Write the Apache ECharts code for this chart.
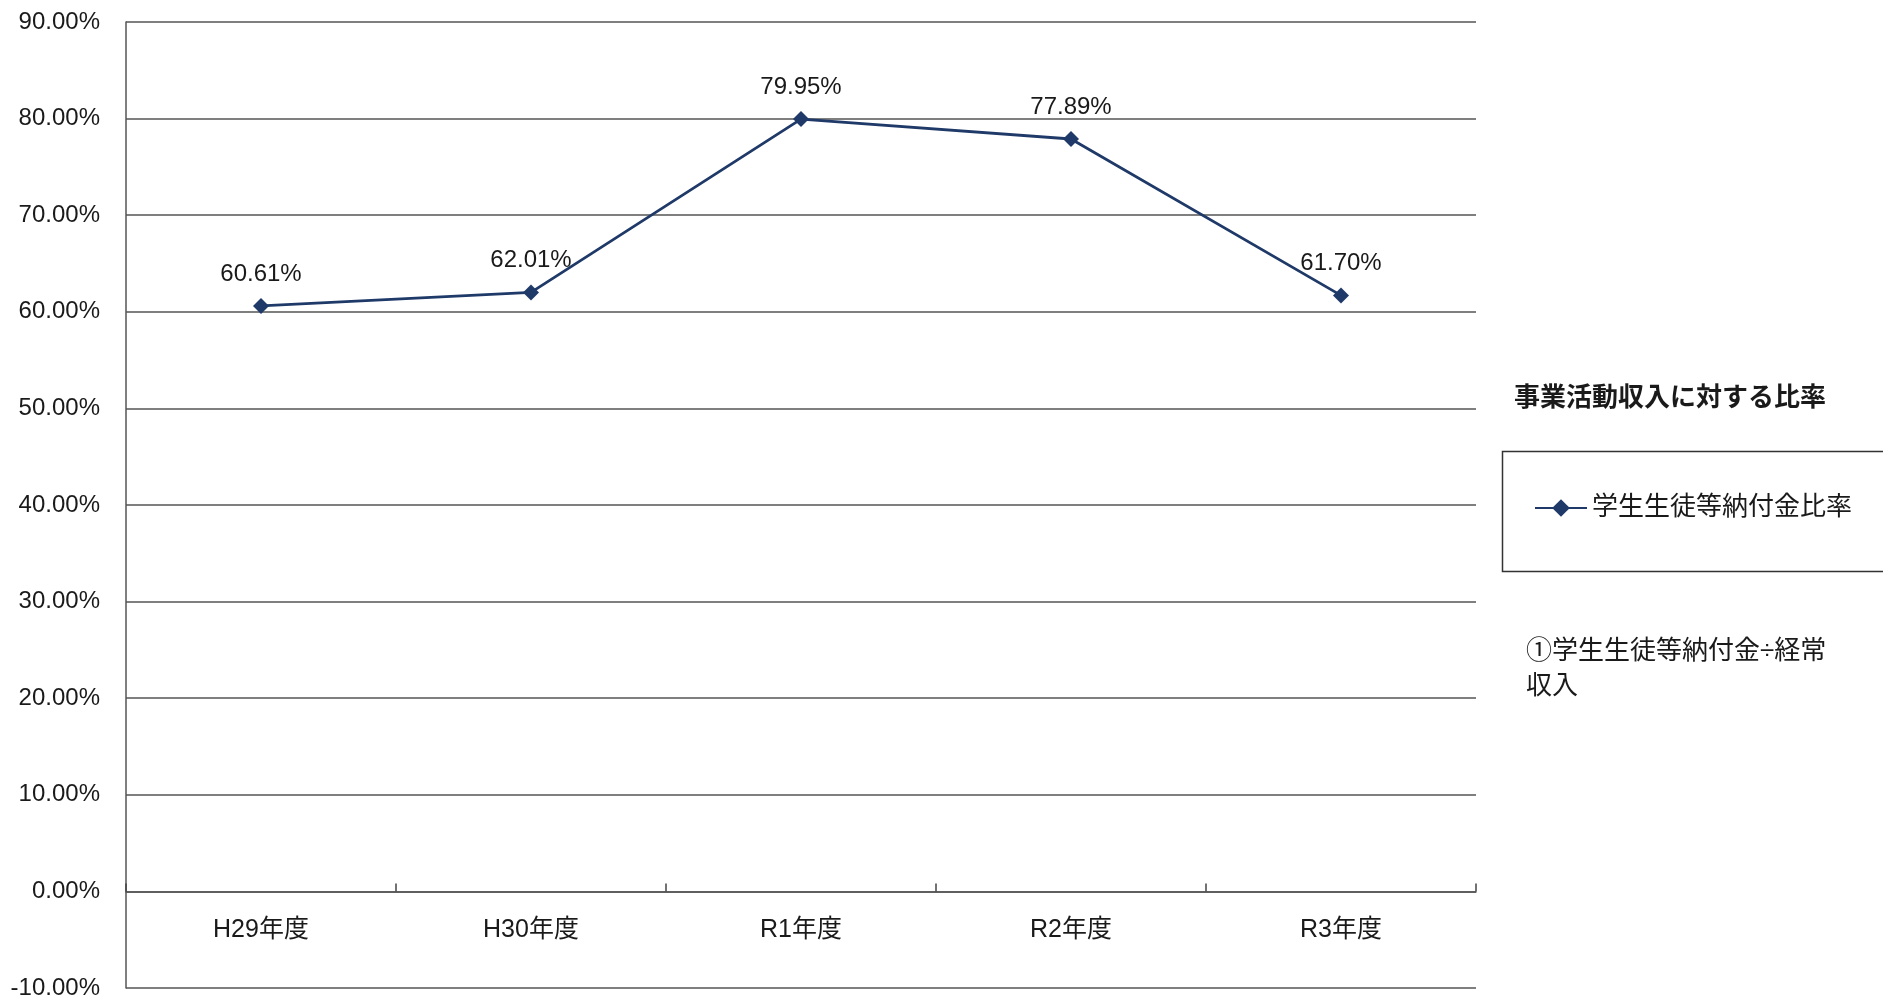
<!DOCTYPE html>
<html>
<head>
<meta charset="utf-8">
<script src="https://cdn.jsdelivr.net/npm/echarts@6/dist/echarts.min.js"></script>
<style>html,body{margin:0;padding:0;background:#fff}#c{width:1883px;height:1000px}</style>
</head>
<body>
<div id="c"></div>
<script>
const categories = ['H29年度', 'H30年度', 'R1年度', 'R2年度', 'R3年度'];
const ratioValues = [60.61, 62.01, 79.95, 77.89, 61.70];
const seriesName = '学生生徒等納付金比率';
const legendTitle = '事業活動収入に対する比率';
const noteText = '①学生生徒等納付金÷経常\n収入';

const FONT = '"Liberation Sans", "Noto Sans CJK JP", sans-serif';
const TXT = '#1a1a1a';
const LINE = '#1f3a68';

const GRID_TOP = 22, GRID_BOTTOM = 12, H = 1000;
const Y_MIN = -10, Y_MAX = 90;
const pxPerUnit = (H - GRID_TOP - GRID_BOTTOM) / (Y_MAX - Y_MIN);

const chart = echarts.init(document.getElementById('c'));
chart.setOption({
  backgroundColor: '#fff',
  animation: false,
  textStyle: { fontFamily: FONT },
  title: [
    { text: legendTitle, left: 1514, top: 386, padding: 0,
      textStyle: { fontFamily: FONT, fontSize: 26, fontWeight: 'bold', color: TXT } },
    { text: noteText, left: 1526, top: 634, padding: 0,
      textStyle: { fontFamily: FONT, fontSize: 26, fontWeight: 'normal', color: TXT, lineHeight: 35 } }
  ],
  graphic: [
    { type: 'rect', left: 1500, top: 449, shape: { width: 400, height: 120 },
      style: { fill: 'none', stroke: '#333', lineWidth: 1.5 } }
  ],
  legend: {
    left: 1534, top: 495, padding: 0,
    itemWidth: 52, itemHeight: 22, itemGap: 6,
    textStyle: { fontFamily: FONT, fontSize: 26, color: TXT },
    data: [seriesName]
  },
  grid: { left: 126, top: GRID_TOP, right: 407, bottom: GRID_BOTTOM, containLabel: false, outerBoundsMode: 'none' },
  xAxis: {
    type: 'category',
    data: categories,
    boundaryGap: true,
    offset: -(0 - Y_MIN) * pxPerUnit,
    axisLine: { onZero: false, lineStyle: { color: '#555', width: 1.5 } },
    axisTick: { show: true, inside: true, length: 8, lineStyle: { color: '#444', width: 1.5 } },
    axisLabel: { margin: 26, fontSize: 25, color: TXT, fontFamily: FONT }
  },
  yAxis: {
    type: 'value',
    min: Y_MIN, max: Y_MAX, interval: 10,
    axisLine: { show: true, lineStyle: { color: '#555', width: 1.5 } },
    axisTick: { show: false },
    splitLine: { show: true, lineStyle: { color: '#555', width: 1.5 } },
    axisLabel: { margin: 26, fontSize: 24, color: TXT, fontFamily: FONT,
      formatter: v => v.toFixed(2) + '%' }
  },
  series: [{
    name: seriesName,
    type: 'line',
    data: ratioValues,
    symbol: 'diamond',
    symbolSize: 16,
    lineStyle: { color: LINE, width: 2.8 },
    itemStyle: { color: LINE },
    label: { show: true, position: 'top', distance: 12, fontSize: 24, color: TXT,
      fontFamily: FONT, formatter: p => p.value.toFixed(2) + '%' }
  }]
});
</script>
</body>
</html>
